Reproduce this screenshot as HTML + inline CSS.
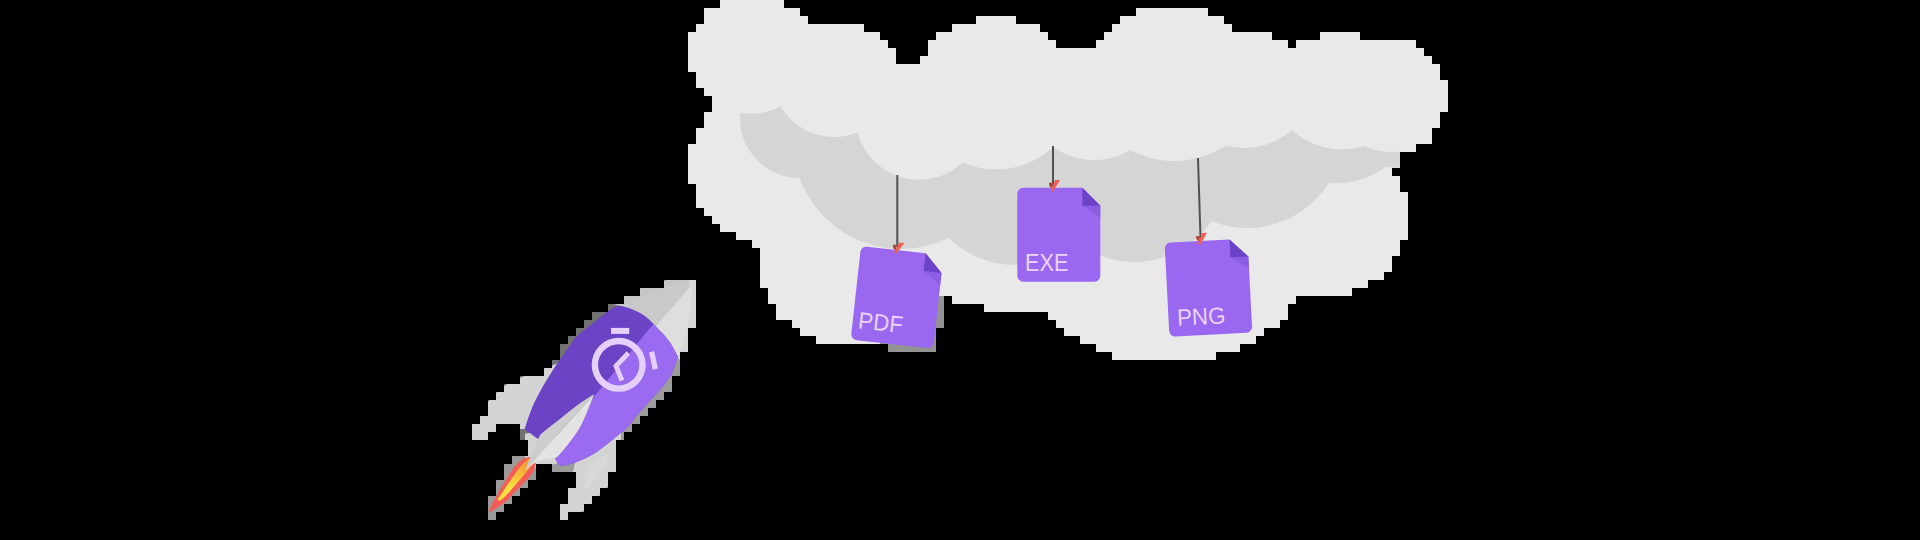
<!DOCTYPE html>
<html><head><meta charset="utf-8"><style>html,body{margin:0;padding:0;background:#000;width:1920px;height:540px;overflow:hidden}svg{display:block}</style></head>
<body><svg width="1920" height="540" viewBox="0 0 1920 540">
<defs>
<clipPath id="cm"><path d="M720 0h64v8h-64zM704 8h96v8h-96zM1136 8h72v8h-72zM704 16h104v8h-104zM976 16h40v8h-40zM1120 16h104v8h-104zM696 24h168v8h-168zM952 24h88v8h-88zM1112 24h120v8h-120zM688 32h192v8h-192zM936 32h112v8h-112zM1104 32h168v8h-168zM1320 32h40v8h-40zM688 40h200v8h-200zM928 40h128v8h-128zM1096 40h192v8h-192zM1296 40h120v8h-120zM688 48h208v8h-208zM928 48h496v8h-496zM688 56h208v8h-208zM920 56h512v8h-512zM688 64h752v8h-752zM696 72h744v8h-744zM696 80h752v8h-752zM704 88h744v8h-744zM712 96h736v8h-736zM712 104h736v8h-736zM704 112h736v8h-736zM704 120h736v8h-736zM696 128h736v8h-736zM696 136h736v8h-736zM688 144h728v8h-728zM688 152h712v8h-712zM688 160h712v8h-712zM688 168h704v8h-704zM688 176h712v8h-712zM696 184h704v8h-704zM696 192h712v8h-712zM696 200h712v8h-712zM704 208h704v8h-704zM712 216h696v8h-696zM720 224h688v8h-688zM736 232h672v8h-672zM752 240h648v8h-648zM760 248h640v8h-640zM760 256h632v8h-632zM760 264h632v8h-632zM760 272h624v8h-624zM760 280h608v8h-608zM768 288h584v8h-584zM768 296h176v8h-176zM952 296h344v8h-344zM776 304h168v8h-168zM984 304h304v8h-304zM776 312h168v8h-168zM1048 312h240v8h-240zM792 320h152v8h-152zM1056 320h224v8h-224zM800 328h136v8h-136zM1064 328h200v8h-200zM816 336h120v8h-120zM1080 336h176v8h-176zM888 344h48v8h-48zM1096 344h144v8h-144zM1112 352h104v8h-104z"/></clipPath>
<clipPath id="rm"><path d="M664 280h32v8h-32zM640 288h56v8h-56zM624 296h72v8h-72zM608 304h88v8h-88zM592 312h104v8h-104zM584 320h112v8h-112zM576 328h112v8h-112zM568 336h120v8h-120zM560 344h128v8h-128zM560 352h120v8h-120zM552 360h128v8h-128zM544 368h136v8h-136zM520 376h152v8h-152zM504 384h168v8h-168zM496 392h168v8h-168zM488 400h168v8h-168zM488 408h160v8h-160zM480 416h160v8h-160zM472 424h24v8h-24zM520 424h112v8h-112zM472 432h16v8h-16zM520 432h104v8h-104zM528 440h88v8h-88zM528 448h88v8h-88zM512 456h104v8h-104zM504 464h32v8h-32zM552 464h64v8h-64zM504 472h32v8h-32zM576 472h32v8h-32zM496 480h32v8h-32zM576 480h32v8h-32zM496 488h24v8h-24zM568 488h32v8h-32zM488 496h24v8h-24zM568 496h24v8h-24zM488 504h16v8h-16zM560 504h24v8h-24zM488 512h8v8h-8zM560 512h8v8h-8z"/></clipPath>
</defs>
<rect width="1920" height="540" fill="#000"/>
<g clip-path="url(#cm)">
<rect x="680" y="0" width="780" height="370" fill="#e9e9e9"/>
<rect x="880" y="296" width="64" height="64" fill="#939393"/>
<g fill="#d5d5d5"><circle cx="800" cy="118" r="60" fill="#d5d5d5"/><circle cx="901" cy="141" r="108" fill="#d5d5d5"/><circle cx="1016" cy="166" r="99" fill="#d5d5d5"/><circle cx="1134" cy="168" r="94" fill="#d5d5d5"/><circle cx="1247" cy="131" r="97" fill="#d5d5d5"/><circle cx="1337" cy="101" r="82" fill="#d5d5d5"/><path d="M740 118V100H1400V150L1337 101L1247 131L1134 168L1016 166L901 141L800 118Z"/><path d="M1370 100H1400V168L1393 167.5L1387 167Z"/></g>
<g fill="#e9e9e9"><circle cx="752" cy="53.5" r="60" fill="#e9e9e9"/><circle cx="834" cy="75" r="62" fill="#e9e9e9"/><circle cx="919" cy="116.3" r="63.5" fill="#e9e9e9"/><circle cx="996" cy="84.3" r="85" fill="#e9e9e9"/><circle cx="1094" cy="90" r="70" fill="#e9e9e9"/><circle cx="1174" cy="67" r="94" fill="#e9e9e9"/><circle cx="1244.4" cy="76" r="72" fill="#e9e9e9"/><circle cx="1341.6" cy="76.6" r="72.7" fill="#e9e9e9"/><circle cx="1392" cy="85" r="67" fill="#e9e9e9"/><rect x="680" y="0" width="780" height="100"/></g>
<g stroke="#505050" stroke-width="2">
<line x1="897.3" y1="175" x2="897.3" y2="247"/>
<line x1="1053" y1="146" x2="1053" y2="186"/>
<line x1="1198" y1="158" x2="1200.5" y2="238"/>
</g>
<g transform="translate(896.8 250) rotate(6.3)">
<path d="M-30 0H29L47 18V88a6 6 0 0 1-6 6H-30a6 6 0 0 1-6-6V6a6 6 0 0 1 6-6z" fill="#9a68f0"/>
<path d="M29 18L47 18L47 30Z" fill="#8a5ce0" opacity="0.9"/>
<path d="M29 0L47 18H29Z" fill="#6c42c8"/>
<text transform="translate(-30.4 82.0) scale(0.95 1)" font-family="Liberation Sans, sans-serif" font-size="23.5" fill="#ecd3fa">PDF</text>
<path d="M1.9 -7.8L6.9 -7.8L-0.6 4L-2.6 2.5Z" fill="#ef5f58"/><path d="M-4.5 -5L-0.3 -5L-1.2 0.5L-3.7 -1.1Z" fill="#a8473d"/>
</g>
<g transform="translate(1053.3 187.8) rotate(0)">
<path d="M-30 0H29L47 18V88a6 6 0 0 1-6 6H-30a6 6 0 0 1-6-6V6a6 6 0 0 1 6-6z" fill="#9a68f0"/>
<path d="M29 18L47 18L47 30Z" fill="#8a5ce0" opacity="0.9"/>
<path d="M29 0L47 18H29Z" fill="#6c42c8"/>
<text transform="translate(-28.4 83.5) scale(0.925 1)" font-family="Liberation Sans, sans-serif" font-size="23.5" fill="#ecd3fa">EXE</text>
<path d="M1.9 -7.8L6.9 -7.8L-0.6 4L-2.6 2.5Z" fill="#ef5f58"/><path d="M-4.5 -5L-0.3 -5L-1.2 0.5L-3.7 -1.1Z" fill="#a8473d"/>
</g>
<g transform="translate(1200.5 241) rotate(-3)">
<path d="M-30 0H29L47 18V88a6 6 0 0 1-6 6H-30a6 6 0 0 1-6-6V6a6 6 0 0 1 6-6z" fill="#9a68f0"/>
<path d="M29 18L47 18L47 30Z" fill="#8a5ce0" opacity="0.9"/>
<path d="M29 0L47 18H29Z" fill="#6c42c8"/>
<text transform="translate(-27.4 83.5) scale(0.95 1)" font-family="Liberation Sans, sans-serif" font-size="23.5" fill="#ecd3fa">PNG</text>
<path d="M1.9 -7.8L6.9 -7.8L-0.6 4L-2.6 2.5Z" fill="#ef5f58"/><path d="M-4.5 -5L-0.3 -5L-1.2 0.5L-3.7 -1.1Z" fill="#a8473d"/>
</g>

</g>
<g clip-path="url(#rm)" id="rocket">
<rect x="460" y="270" width="250" height="260" fill="#727272"/><path d="M681 290L720 290L720 520L493.6 520Z" fill="#9c9c9c"/><rect x="478" y="446" width="70" height="76" fill="#9a9a9a"/>
<path d="M700 270L600 300L700 330Z" fill="#c6c6c6"/><path d="M690 276H706V340L686 362L676 358Z" fill="#d6d6d6"/>
<rect x="470" y="420" width="22" height="22" fill="#d4d4d4"/><rect x="556" y="500" width="16" height="22" fill="#d8d8d8"/><path d="M556 371.5 C550.8 373.5 533.0 380.1 525.0 383.5 C517.0 386.9 512.5 389.1 508.0 392.0 C503.5 394.9 500.8 398.0 498.0 401.0 C495.2 404.0 493.0 406.8 491.0 410.0 C489.0 413.2 487.8 416.8 486.0 420.0 C484.2 423.2 481.8 426.2 480.0 429.0 C478.2 431.8 476.0 435.2 475.0 437.0 C474.0 438.8 474.2 439.5 474.0 440.0 C476.0 439.0 482.7 436.5 486.0 434.0 C489.3 431.5 491.7 426.9 494.0 425.0 C496.3 423.1 494.3 423.0 500.0 422.5 C505.7 422.0 523.3 422.1 528.0 422.0 C532.7 413.6 551.3 379.9 556.0 371.5 Z" fill="#d4d4d4" stroke="#d4d4d4" stroke-width="14" stroke-linejoin="miter"/>
<path d="M583 460L614 440L614 466L607 472L604 480L597 488L589 496L581 504L566 512L562 519L568 504L571 496L577 488L579 480L580 472Z" fill="#d8d8d8" stroke="#d4d4d4" stroke-width="14" stroke-linejoin="miter"/>
<path d="M530 438L546 436L558 458L536 463L530 460Z" fill="#d4d4d4" stroke="#d4d4d4" stroke-width="10"/>
<path d="M488.5 513 C489.1 511.5 490.6 507.0 492.0 504.0 C493.4 501.0 495.4 497.8 497.0 495.0 C498.6 492.2 499.9 489.7 501.5 487.0 C503.1 484.3 504.8 481.7 506.5 479.0 C508.2 476.3 509.8 473.5 511.5 471.0 C513.2 468.5 515.2 465.9 517.0 464.0 C518.8 462.1 520.3 460.6 522.0 459.5 C523.7 458.4 525.3 457.8 527.0 457.5 C528.7 457.2 530.6 456.7 532.0 457.5 C533.4 458.3 535.0 460.9 535.5 462.5 C536.0 464.1 535.8 464.9 535.0 467.0 C534.2 469.1 533.5 471.7 531.0 475.0 C528.5 478.3 523.0 483.8 520.0 487.0 C517.0 490.2 515.2 491.8 513.0 494.0 C510.8 496.2 509.5 498.3 507.0 500.5 C504.5 502.7 501.1 504.9 498.0 507.0 C494.9 509.1 490.1 512.0 488.5 513.0 Z" fill="#f45d55"/>
<linearGradient id="fg" gradientUnits="userSpaceOnUse" x1="500" y1="499" x2="528" y2="463"><stop offset="0.35" stop-color="#f4e03e"/><stop offset="1" stop-color="#f79a34"/></linearGradient><path d="M499 500 C498.8 499.9 497.2 500.8 497.8 499.4 C498.4 498.0 501.1 494.3 502.7 491.9 C504.2 489.5 505.6 487.4 507.1 485.2 C508.6 483.0 510.2 480.8 511.8 478.5 C513.4 476.2 515.0 473.9 516.6 471.7 C518.2 469.5 519.9 467.2 521.4 465.5 C522.9 463.8 524.1 462.3 525.4 461.2 C526.6 460.1 527.8 459.4 528.9 458.8 C530.0 458.2 531.2 457.4 531.9 457.7 C532.6 458.0 533.0 459.6 533.0 460.6 C533.0 461.6 532.7 462.2 531.8 463.9 C530.9 465.5 529.9 467.6 527.7 470.5 C525.5 473.4 520.9 478.5 518.4 481.4 C515.9 484.3 514.5 485.8 512.7 487.9 C510.9 490.0 509.7 491.7 507.7 493.8 C505.7 495.9 502.2 499.3 500.8 500.3 C499.4 501.3 499.3 500.1 499.0 500.0 Z" fill="url(#fg)"/>

<path d="M692.5 284.5 C691.9 290.4 690.4 310.8 689.0 320.0 C687.6 329.2 685.8 333.8 684.0 340.0 C682.2 346.2 679.0 354.2 678.0 357.0 C666.2 349.6 619.2 319.8 607.5 312.4 C610.9 311.0 621.9 306.7 628.0 304.0 C634.1 301.3 637.3 298.7 644.0 296.0 C650.7 293.3 659.9 289.9 668.0 288.0 C676.1 286.1 688.4 285.1 692.5 284.5 Z" fill="#dedede"/>
<path d="M692.5 284.5 C686.2 291.6 661.2 319.9 655.0 327.0 C647.1 324.6 615.4 314.8 607.5 312.4 C610.9 311.0 621.9 306.7 628.0 304.0 C634.1 301.3 637.3 298.7 644.0 296.0 C650.7 293.3 659.9 289.9 668.0 288.0 C676.1 286.1 688.4 285.1 692.5 284.5 Z" fill="#c9c9c9"/>
<clipPath id="bodyclip"><path d="M608.3 310.8 C610.3 310.0 615.1 305.5 620.6 306.0 C626.1 306.5 635.7 310.5 641.5 313.8 C647.3 317.1 650.8 321.4 655.4 326.0 C660.0 330.6 665.5 336.4 669.3 341.6 C673.1 346.8 676.5 354.4 678.0 357.0 C676.7 360.3 673.5 370.6 670.0 376.7 C666.5 382.8 661.7 387.5 656.7 393.3 C651.7 399.1 644.7 406.1 640.0 411.7 C635.3 417.3 630.2 424.2 628.3 426.7 C622.5 431.2 604.1 447.5 593.3 454.0 C582.5 460.5 569.7 465.0 563.3 465.7 C556.9 466.4 556.4 459.3 555.0 458.0 C555.5 457.6 556.1 458.0 558.3 455.7 C560.5 453.4 564.7 448.7 568.3 444.0 C571.9 439.3 576.7 433.1 580.0 427.3 C583.3 421.5 585.9 414.6 588.3 409.0 C590.7 403.4 593.2 396.5 594.2 394.0 C591.3 395.9 582.4 401.5 576.7 405.7 C571.0 409.9 565.6 414.6 560.0 419.0 C554.4 423.4 546.9 429.0 543.3 432.3 C539.7 435.6 539.1 437.9 538.3 439.0 C536.0 437.4 527.0 431.0 524.7 429.4 C524.9 428.8 524.3 429.7 525.6 425.9 C526.9 422.1 530.0 412.8 532.6 406.6 C535.2 400.5 538.2 394.9 541.4 389.0 C544.6 383.1 548.9 376.3 552.0 371.4 C555.1 366.5 557.4 363.3 560.0 359.5 C562.6 355.7 565.3 352.0 567.8 348.5 C570.3 345.0 572.4 341.2 575.0 338.3 C577.6 335.4 580.5 333.2 583.3 330.8 C586.1 328.4 588.9 326.4 591.7 324.2 C594.5 322.0 597.2 319.7 600.0 317.5 C602.8 315.3 606.9 311.9 608.3 310.8 Z"/></clipPath>
<g clip-path="url(#bodyclip)"><rect x="500" y="290" width="200" height="200" fill="#6b44c6"/>
<path d="M681 290L720 290L720 520L493.6 520Z" fill="#9a6bf0"/></g>
<path d="M594.2 394 C582.7 406.8 536.5 457.9 525.0 470.7 C526.7 469.4 531.5 464.9 535.0 463.0 C538.5 461.1 542.7 459.8 546.0 459.0 C549.3 458.2 553.5 458.2 555.0 458.0 C555.5 457.6 556.1 458.0 558.3 455.7 C560.5 453.4 564.7 448.7 568.3 444.0 C571.9 439.3 576.7 433.1 580.0 427.3 C583.3 421.5 585.9 414.6 588.3 409.0 C590.7 403.4 593.2 396.5 594.2 394.0 Z" fill="#e3e3e3"/>
<path d="M594.2 394 C591.3 395.9 582.4 401.5 576.7 405.7 C571.0 409.9 565.6 414.6 560.0 419.0 C554.4 423.4 546.9 429.0 543.3 432.3 C539.7 435.6 541.3 432.6 538.3 439.0 C535.2 445.4 527.2 465.4 525.0 470.7 C536.5 457.9 582.7 406.8 594.2 394.0 Z" fill="#cdcdcd"/>
<circle cx="618.7" cy="364.8" r="23.8" fill="none" stroke="#e4d0fb" stroke-width="6.4"/>
<rect x="611" y="327.9" width="18.2" height="6" fill="#e4d0fb"/>
<rect x="650.8" y="351.5" width="5.3" height="17.8" fill="#e4d0fb" transform="rotate(-12 653.4 360.4)"/>
<path d="M628.4 353L616 366L622 380.5" fill="none" stroke="#e4d0fb" stroke-width="4.8"/>
</g>
</svg></body></html>
